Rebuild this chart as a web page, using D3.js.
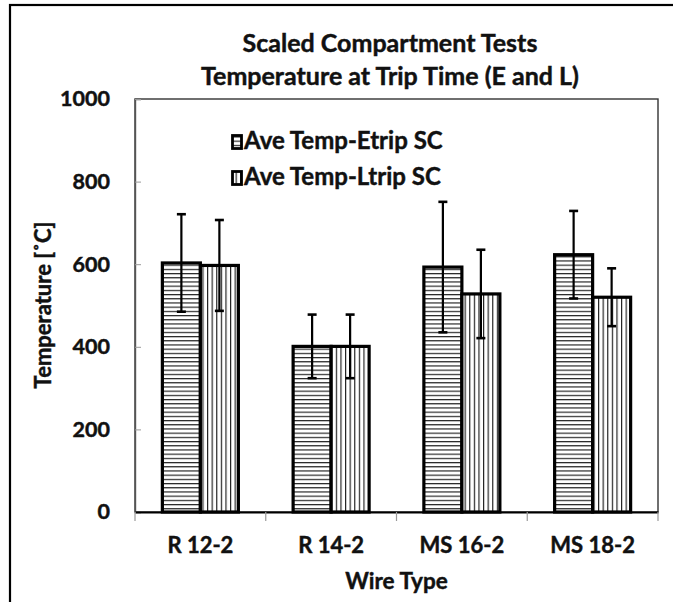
<!DOCTYPE html>
<html>
<head>
<meta charset="utf-8">
<script src="https://cdn.jsdelivr.net/npm/d3@7"></script>
<style>
  html, body { margin: 0; padding: 0; background: #fff; }
  svg { display: block; }
  text { font-family: Lato, "Open Sans", sans-serif; font-weight: bold; fill: #111; stroke: #111; stroke-width: 0.45px; }
</style>
</head>
<body>
<svg id="chart" width="673" height="602"></svg>
<script>
const categories = ["R 12-2", "R 14-2", "MS 16-2", "MS 18-2"];
const seriesNames = ["Ave Temp-Etrip SC", "Ave Temp-Ltrip SC"];
const etripValues = [603, 401, 593, 623];
const ltripValues = [597, 401, 528, 520];
const etripErrors = [118, 77, 158, 106];
const ltripErrors = [110, 77, 107, 70];
const yTickValues = [0, 200, 400, 600, 800, 1000];
const titleLines = ["Scaled Compartment Tests", "Temperature at Trip Time (E and L)"];
const xTitle = "Wire Type";
const yTitle = "Temperature [˚C]";

const svg = d3.select("#chart");
const plot = { left: 135, right: 658, top: 99, bottom: 512 };

// patterns
const defs = svg.append("defs");
const ph = defs.append("pattern").attr("id", "hatchH").attr("patternUnits", "userSpaceOnUse")
  .attr("width", 6).attr("height", 4.2);
ph.append("rect").attr("width", 6).attr("height", 4.2).attr("fill", "#fff");
ph.append("line").attr("x1", 0).attr("x2", 6).attr("y1", 0.6).attr("y2", 0.6)
  .attr("stroke", "#111").attr("stroke-width", 1.1);
const pv = defs.append("pattern").attr("id", "hatchV").attr("patternUnits", "userSpaceOnUse")
  .attr("width", 4.6).attr("height", 6);
pv.append("rect").attr("width", 4.6).attr("height", 6).attr("fill", "#fff");
pv.append("line").attr("y1", 0).attr("y2", 6).attr("x1", 0.6).attr("x2", 0.6)
  .attr("stroke", "#111").attr("stroke-width", 1.1);
const fills = ["url(#hatchH)", "url(#hatchV)"];

// outer border (only top and left visible in the frame)
svg.append("rect").attr("x", 10).attr("y", 5).attr("width", 700).attr("height", 640)
  .attr("fill", "none").attr("stroke", "#000").attr("stroke-width", 2.2);

const x = d3.scaleBand().domain(categories).range([plot.left, plot.right]).padding(0);
const groupW = 76;
const xs = d3.scaleBand().domain([0, 1]).range([0, groupW]).padding(0);
const y = d3.scaleLinear().domain([0, 1000]).range([plot.bottom, plot.top]);

// plot area border
svg.append("rect").attr("x", plot.left).attr("y", plot.top)
  .attr("width", plot.right - plot.left).attr("height", plot.bottom - plot.top)
  .attr("fill", "none").attr("stroke", "#333").attr("stroke-width", 1.4);

// y axis
const yAxis = svg.append("g").attr("transform", `translate(${plot.left},0)`)
  .call(d3.axisLeft(y).tickValues(yTickValues).tickSize(-6).tickPadding(25).tickFormat(d3.format("d")));
yAxis.select(".domain").attr("stroke", "#555").attr("stroke-width", 1.4);
yAxis.selectAll(".tick line").attr("stroke", "#999").attr("stroke-width", 1);
yAxis.selectAll(".tick text").style("font-size", "21.5px").attr("fill", "#111")
  .style("font-family", "Lato, sans-serif").style("font-weight", "bold");

// x axis
const xAxis = svg.append("g").attr("transform", `translate(0,${plot.bottom})`)
  .call(d3.axisBottom(x).tickSize(0).tickPadding(25));
xAxis.select(".domain").attr("stroke", "#000").attr("stroke-width", 2);
xAxis.selectAll(".tick text").style("font-size", "22px").attr("fill", "#111")
  .style("font-family", "Lato, sans-serif").style("font-weight", "bold");
// category boundary ticks
const boundaries = categories.map(c => x(c)).concat([x(categories[categories.length - 1]) + x.bandwidth()]);
svg.append("g").selectAll("line").data(boundaries).join("line")
  .attr("x1", d => d).attr("x2", d => d).attr("y1", plot.bottom).attr("y2", plot.bottom + 9)
  .attr("stroke", "#999").attr("stroke-width", 1.2);

// bars
const series = [etripValues, ltripValues];
const errors = [etripErrors, ltripErrors];
const barData = [];
categories.forEach((c, i) => {
  series.forEach((s, k) => barData.push({ c, k, v: s[i], e: errors[k][i] }));
});
const gx = d => x(d.c) + (x.bandwidth() - groupW) / 2 + xs(d.k);

svg.append("g").selectAll("rect").data(barData).join("rect")
  .attr("x", d => gx(d))
  .attr("y", d => y(d.v))
  .attr("width", xs.bandwidth())
  .attr("height", d => y(0) - y(d.v))
  .attr("fill", d => fills[d.k])
  .attr("stroke", "#000").attr("stroke-width", 3.2);

// error bars
const eb = svg.append("g").selectAll("g").data(barData).join("g");
eb.append("line")
  .attr("x1", d => gx(d) + xs.bandwidth() / 2).attr("x2", d => gx(d) + xs.bandwidth() / 2)
  .attr("y1", d => y(d.v + d.e)).attr("y2", d => y(d.v - d.e))
  .attr("stroke", "#000").attr("stroke-width", 2.2);
eb.selectAll("line.cap").data(d => [d.v + d.e, d.v - d.e].map(val => ({ d, val }))).join("line")
  .attr("class", "cap")
  .attr("x1", o => gx(o.d) + xs.bandwidth() / 2 - 4.5).attr("x2", o => gx(o.d) + xs.bandwidth() / 2 + 4.5)
  .attr("y1", o => y(o.val)).attr("y2", o => y(o.val))
  .attr("stroke", "#000").attr("stroke-width", 2.6);

// title
svg.append("g").selectAll("text").data(titleLines).join("text")
  .attr("x", 390)
  .attr("y", (d, i) => 52 + i * 33)
  .attr("text-anchor", "middle")
  .style("font-size", "25px")
  .text(d => d);

// axis titles
svg.append("text").attr("x", (plot.left + plot.right) / 2).attr("y", 589)
  .attr("text-anchor", "middle").style("font-size", "22.5px").text(xTitle);
svg.append("text").attr("transform", "translate(51,305) rotate(-90)")
  .attr("text-anchor", "middle").style("font-size", "22px").text(yTitle);

// legend
const legend = svg.append("g").selectAll("g").data(seriesNames).join("g")
  .attr("transform", (d, i) => `translate(231,${149 + i * 36})`);
legend.append("rect").attr("x", 1.5).attr("y", -13.5).attr("width", 9).attr("height", 13)
  .attr("fill", (d, i) => fills[i]).attr("stroke", "#000").attr("stroke-width", 2.8);
legend.append("text").attr("x", 13).attr("y", 0).style("font-size", "24px").text(d => d);
</script>
</body>
</html>
